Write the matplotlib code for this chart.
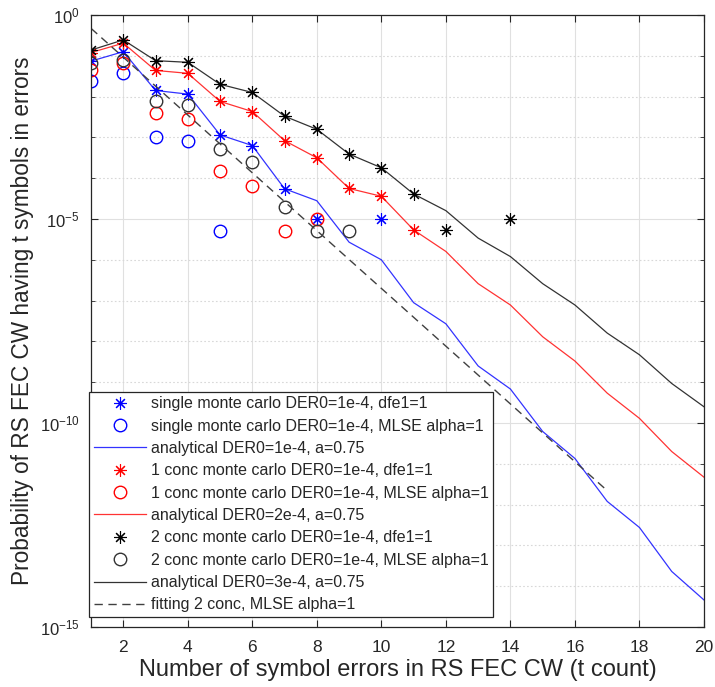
import numpy as np
import matplotlib
matplotlib.use("Agg")
from matplotlib import pyplot as plt
from matplotlib.ticker import FixedLocator, NullFormatter

plt.rcParams["font.family"] = ["Liberation Sans", "DejaVu Sans"]
plt.rcParams["mathtext.fontset"] = "custom"
plt.rcParams["mathtext.rm"] = "Liberation Sans"

# t count
t = np.arange(1, 21)

# analytical curves
an_single = [7.4e-2, 1.26e-1, 1.41e-2, 1.15e-2, 1.15e-3, 6.3e-4, 5.5e-5, 2.8e-5, 2.7e-6, 1.0e-6,
             8.9e-8, 2.7e-8, 2.5e-9, 6.8e-10, 6.2e-11, 1.35e-11, 1.2e-12, 2.75e-13, 2.3e-14, 4.6e-15]
an_conc1 = [1.20e-1, 2.04e-1, 4.37e-2, 3.72e-2, 7.6e-3, 4.3e-3, 8.3e-4, 3.16e-4, 5.6e-5, 3.6e-5,
            5.4e-6, 1.6e-6, 2.6e-7, 7.8e-8, 1.3e-8, 3.3e-9, 5.4e-10, 1.3e-10, 2.0e-11, 4.7e-12]
an_conc2 = [1.38e-1, 2.45e-1, 7.59e-2, 6.92e-2, 2.0e-2, 1.26e-2, 3.3e-3, 1.58e-3, 3.9e-4, 1.8e-4,
            4.1e-5, 1.6e-5, 3.4e-6, 1.2e-6, 2.6e-7, 7.8e-8, 1.6e-8, 4.7e-9, 9.3e-10, 2.5e-10]

# monte carlo, dfe1=1
t_mc_single = [1, 2, 3, 4, 5, 6, 7, 8, 10]
mc_single = [7.4e-2, 1.26e-1, 1.41e-2, 1.15e-2, 1.15e-3, 6.3e-4, 5.5e-5, 1e-5, 1e-5]
t_mc_conc1 = [1, 2, 3, 4, 5, 6, 7, 8, 9, 10, 11]
mc_conc1 = [1.20e-1, 2.04e-1, 4.37e-2, 3.72e-2, 7.6e-3, 4.3e-3, 8.3e-4, 3.16e-4, 5.6e-5, 3.6e-5, 5.4e-6]
t_mc_conc2 = [1, 2, 3, 4, 5, 6, 7, 8, 9, 10, 11, 12, 14]
mc_conc2 = [1.38e-1, 2.45e-1, 7.59e-2, 6.92e-2, 2.0e-2, 1.26e-2, 3.3e-3, 1.58e-3, 3.9e-4, 1.8e-4,
            4.1e-5, 5.4e-6, 1e-5]

# monte carlo, MLSE alpha=1
t_mlse_single = [1, 2, 3, 4, 5]
mlse_single = [2.45e-2, 3.7e-2, 1.05e-3, 8.1e-4, 5.1e-6]
t_mlse_conc1 = [1, 2, 3, 4, 5, 6, 7, 8]
mlse_conc1 = [4.37e-2, 6.76e-2, 3.9e-3, 2.8e-3, 1.5e-4, 6.6e-5, 5.1e-6, 1e-5]
t_mlse_conc2 = [1, 2, 3, 4, 5, 6, 7, 8, 9]
mlse_conc2 = [6.6e-2, 7.9e-2, 7.9e-3, 6.2e-3, 5.1e-4, 2.45e-4, 2.0e-5, 5.1e-6, 5.1e-6]

# fitting 2 conc
t_fit = [1, 17]
fit_conc2 = [4.7e-1, 2.2e-12]

ticks_x = [2, 4, 6, 8, 10, 12, 14, 16, 18, 20]
ticks_y = [1e-15, 1e-10, 1e-5, 1e0]
etiquetas_y = [r"$\mathregular{10^{-15}}$", r"$\mathregular{10^{-10}}$",
               r"$\mathregular{10^{-5}}$", r"$\mathregular{10^{0}}$"]

gris = "#262626"
asterisco = (8, 2, 0)

fig = plt.figure(figsize=(7.15, 6.87), dpi=100)
ax = fig.add_axes([0.1273, 0.0873, 0.8573, 0.8909])

ax.semilogy(t_mc_single, mc_single, linestyle="none", marker=asterisco, color="b", ms=9, mew=0.8,
            label="single monte carlo DER0=1e-4, dfe1=1")
ax.semilogy(t_mlse_single, mlse_single, linestyle="none", marker="o", mfc="none", mec="b", ms=9, mew=1,
            label="single monte carlo DER0=1e-4, MLSE alpha=1")
ax.semilogy(t, an_single, color="b", lw=0.9, alpha=0.8, label="analytical DER0=1e-4, a=0.75")
ax.semilogy(t_mc_conc1, mc_conc1, linestyle="none", marker=asterisco, color="r", ms=9, mew=0.8,
            label="1 conc monte carlo DER0=1e-4, dfe1=1")
ax.semilogy(t_mlse_conc1, mlse_conc1, linestyle="none", marker="o", mfc="none", mec="r", ms=9, mew=1,
            label="1 conc monte carlo DER0=1e-4, MLSE alpha=1")
ax.semilogy(t, an_conc1, color="r", lw=0.9, alpha=0.8, label="analytical DER0=2e-4, a=0.75")
ax.semilogy(t_mc_conc2, mc_conc2, linestyle="none", marker=asterisco, color="k", ms=9, mew=0.8,
            label="2 conc monte carlo DER0=1e-4, dfe1=1")
ax.semilogy(t_mlse_conc2, mlse_conc2, linestyle="none", marker="o", mfc="none", mec="#333333", ms=9, mew=1,
            label="2 conc monte carlo DER0=1e-4, MLSE alpha=1")
ax.semilogy(t, an_conc2, color="k", lw=0.9, alpha=0.8, label="analytical DER0=3e-4, a=0.75")
ax.semilogy(t_fit, fit_conc2, color="#404040", lw=1.0, dashes=(6, 4), label="fitting 2 conc, MLSE alpha=1")

ax.set_xlim(1, 20)
ax.set_ylim(1e-15, 1e0)
ax.set_xticks(ticks_x)
ax.set_yticks(ticks_y)
ax.set_yticklabels(etiquetas_y)
ax.yaxis.set_minor_locator(FixedLocator([10.0 ** k for k in range(-14, 0)]))
ax.yaxis.set_minor_formatter(NullFormatter())

ax.grid(True, which="major", color="#e0e0e0", lw=0.8)
ax.grid(True, which="minor", axis="y", color="#d8d8d8", lw=0.8, linestyle=(0, (1.5, 2)))
ax.set_axisbelow(True)

ax.tick_params(which="both", direction="in", top=True, right=True, colors=gris)
ax.tick_params(which="major", length=5)
ax.tick_params(which="minor", length=3)
ax.tick_params(axis="x", labelsize=12.5, pad=9)
ax.tick_params(axis="y", labelsize=12, pad=8)
for s in ax.spines.values():
    s.set_color(gris)
    s.set_linewidth(0.9)

ax.set_xlabel("Number of symbol errors in RS FEC CW (t count)", fontsize=17, color=gris, labelpad=3)
ax.set_ylabel("Probability of RS FEC CW having t symbols in errors", fontsize=16.3, color=gris, labelpad=4)

leg = ax.legend(loc="lower left", bbox_to_anchor=(-0.003, 0.016), borderaxespad=0,
                fontsize=11.5, fancybox=False, edgecolor=gris, framealpha=1,
                handlelength=3.25, handletextpad=0.3, labelspacing=0.46, borderpad=0.3)
leg.get_frame().set_linewidth(0.9)
for txt in leg.get_texts():
    txt.set_color(gris)

fig.savefig("out.png", dpi=100)
